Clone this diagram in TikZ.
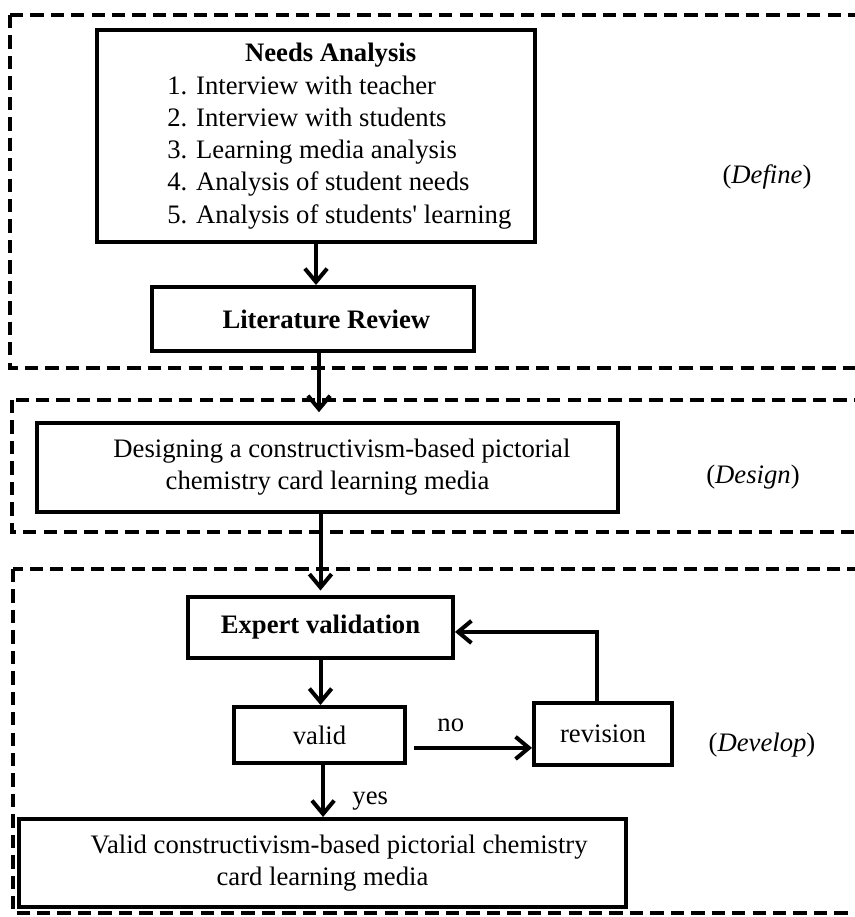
\documentclass[tikz,border=0pt]{standalone}
\usepackage{fontspec}
\setmainfont{Liberation Serif}[Ligatures=TeXOff]
\usetikzlibrary{arrows.meta}

\begin{document}
\begin{tikzpicture}[x=0.45pt, y=-0.45pt,
        font=\fontsize{12}{14.5}\selectfont,
        box/.style={draw, line width=1.8pt, inner sep=0pt, align=center},
        fase/.style={line width=1.8pt, dash pattern=on 6pt off 3.2pt},
        freccia/.style={line width=1.8pt, -{Straight Barb[length=6pt,width=10pt]}}]
            \clip (0,0) rectangle (855,917);

            % Riquadri tratteggiati
            \draw[fase] (10,15) rectangle (880,368);
            \draw[fase] (12,400) rectangle (880,532);
            \draw[fase] (13,569) rectangle (880,913);

            % Define
            \node[box, minimum width=197.1pt, minimum height=95.4pt] (needs) at (316,136)
                {\hspace*{21pt}\begin{tabular}{@{}l@{}}
                    \hspace*{35pt}\textbf{Needs Analysis}\\
                    1. Interview with teacher\\
                    2. Interview with students\\
                    3. Learning media analysis\\
                    4. Analysis of student needs\\
                    5. Analysis of students' learning
                \end{tabular}};
            \node[box, minimum width=144.9pt, minimum height=28.8pt] (lit) at (313,319)
                {\hspace*{12pt}\textbf{Literature Review}};
            \node (define) at (767,177) {(\textit{Define})};

            % Design
            \node[box, minimum width=261.5pt, minimum height=40pt] (design) at (327.5,467.5)
                {\hspace*{13pt}Designing a constructivism-based pictorial\\ chemistry card learning media};
            \node (designlab) at (753,477) {(\textit{Design})};

            % Develop
            \node[box, minimum width=119.25pt, minimum height=27.5pt] (expert) at (320.5,627.5)
                {\textbf{Expert validation}};
            \node[box, minimum width=77pt, minimum height=25.2pt] (valid) at (319.5,735) {valid};
            \node[box, minimum width=62.1pt, minimum height=27.9pt] (revision) at (603,734) {revision};
            \node[box, minimum width=273.2pt, minimum height=39.6pt] (final) at (322.5,863)
                {\hspace*{15pt}Valid constructivism-based pictorial chemistry\\ card learning media};
            \node (develop) at (762,745) {(\textit{Develop})};

            % Frecce
            \draw[freccia] (needs.south) -- (needs.south |- lit.north);
            \draw[freccia, shorten >=4pt] ([xshift=2.7pt]lit.south) -- ([xshift=2.7pt]lit.south |- design.north);
            \draw[freccia, shorten >=2pt] (expert.north |- design.south) -- (expert.north);
            \draw[freccia] (expert.south) -- (expert.south |- valid.north);
            \draw[freccia, shorten <=3pt] ([yshift=-5.8pt]valid.east) -- ([yshift=-5.8pt]valid.east -| revision.west)
                node[pos=0.35, above=3pt] (no) {no};
            \draw[freccia] ([xshift=-2.7pt]revision.north) |- ([yshift=-2pt]expert.east);
            \draw[freccia] ([xshift=1.6pt]valid.south) -- ([xshift=1.6pt]valid.south |- final.north)
                node[pos=0.7, right=9pt] (yes) {yes};
        \end{tikzpicture}
\end{document}
